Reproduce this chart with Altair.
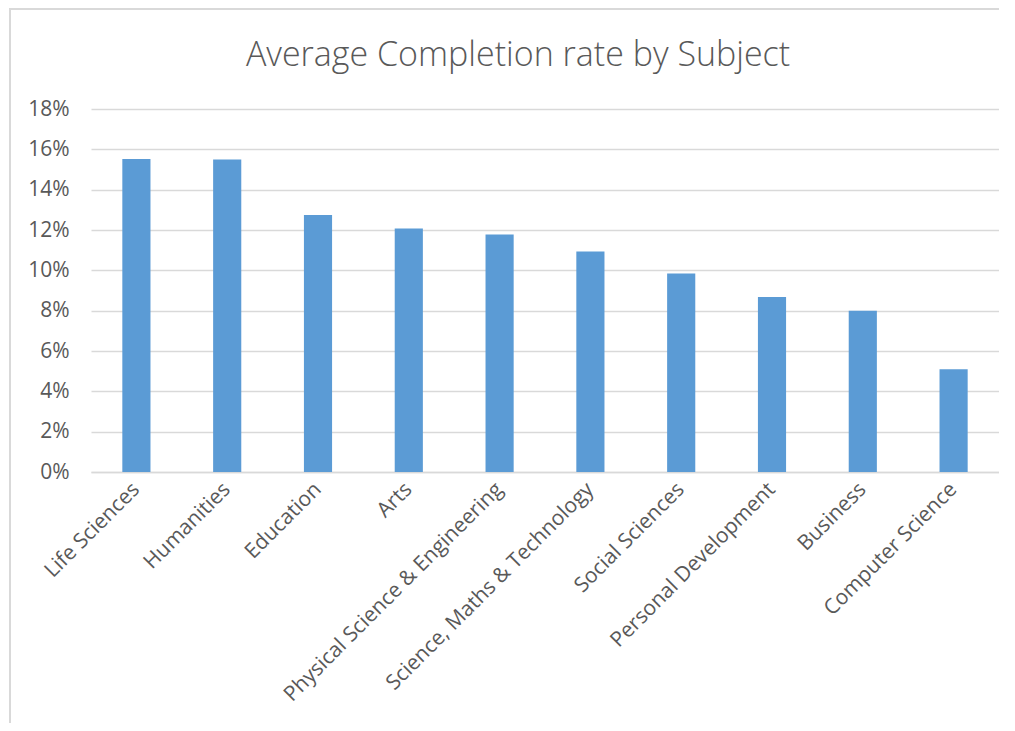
import altair as alt
import pandas as pd

subjects = ["Life Sciences", "Humanities", "Education", "Arts",
            "Physical Science & Engineering", "Science, Maths & Technology",
            "Social Sciences", "Personal Development", "Business", "Computer Science"]
rates = [0.1552, 0.1549, 0.1274, 0.1207, 0.1178, 0.1093, 0.0984, 0.0868, 0.0800, 0.0509]
y_ticks = [0, 0.02, 0.04, 0.06, 0.08, 0.10, 0.12, 0.14, 0.16, 0.18]
title_text = ["Average Completion rate by Subject"]

df = pd.DataFrame({"Subject": subjects, "Rate": rates})
tdf = pd.DataFrame({"t": title_text})

FONT = "Open Sans"
GREY = "#595959"

bars = alt.Chart(df).mark_bar(color="#5B9BD5").encode(
    x=alt.X("Subject:N", sort=subjects,
            scale=alt.Scale(paddingInner=0.69, paddingOuter=0.345),
            axis=alt.Axis(title=None, labelAngle=-45, labelAlign="right",
                          labelBaseline="middle", labelPadding=14,
                          labelFontSize=21, labelFont=FONT, labelColor=GREY,
                          labelOverlap=False, labelLimit=500, ticks=False,
                          domainColor="#D9D9D9", domainWidth=1.3)),
    y=alt.Y("Rate:Q", scale=alt.Scale(domain=[0, 0.18], nice=False),
            axis=alt.Axis(title=None, format=".0%", values=y_ticks,
                          labelFontSize=21, labelFont=FONT, labelColor=GREY,
                          ticks=False, domain=False, labelPadding=22,
                          gridColor="#D9D9D9", gridWidth=1.3)),
)

frame = alt.Chart(df).mark_rect(fill=None, stroke="#D9D9D9", strokeWidth=1.3).encode(
    x=alt.value(-81), x2=alt.value(1200), y=alt.value(-100), y2=alt.value(900)
)

title = alt.Chart(tdf).mark_text(font=FONT, fontSize=34, fontWeight=300, color=GREY,
                                 align="center", baseline="alphabetic").encode(
    text="t:N", x=alt.value(427), y=alt.value(-43)
)

chart = alt.layer(frame, title, bars).properties(
    width=908, height=363,
    autosize=alt.AutoSizeParams(type="none"),
    padding={"left": 83, "top": 101, "right": 0, "bottom": 251},
).configure_view(stroke=None)

chart.save("out.html", embed_options={"renderer": "svg", "actions": False})
